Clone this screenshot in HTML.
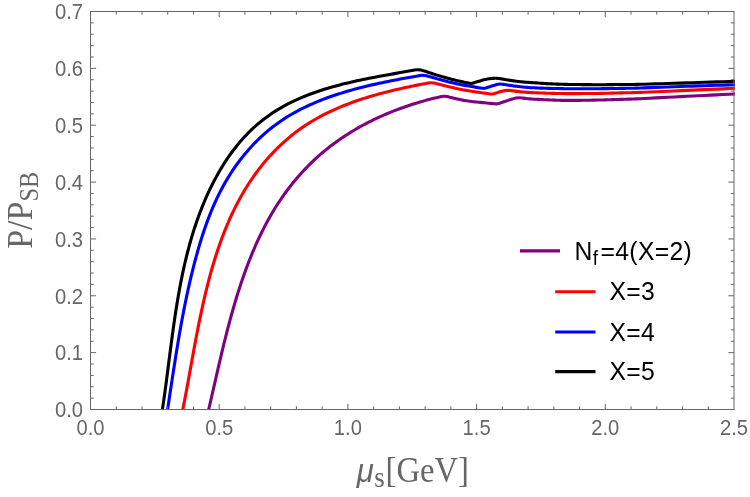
<!DOCTYPE html>
<html><head><meta charset="utf-8"><title>chart</title>
<style>html,body{margin:0;padding:0;background:#fff;}svg{display:block;will-change:transform;}text{font-family:"Liberation Sans",sans-serif;}</style></head>
<body>
<svg width="750" height="497" viewBox="0 0 750 497">
<rect width="750" height="497" fill="#fff"/>
<defs><clipPath id="c"><rect x="90.5" y="9.5" width="644.5" height="400.5"/></clipPath></defs>
<g clip-path="url(#c)" fill="none" stroke-width="3.1" stroke-linejoin="round" stroke-linecap="butt">
<path d="M208.70 409.50L209.36 406.68L210.01 403.84L210.67 400.99L211.33 398.14L211.98 395.27L212.64 392.40L213.29 389.51L213.95 386.62L214.61 383.72L215.27 380.81L215.94 377.89L216.61 374.96L217.28 372.03L217.95 369.10L218.63 366.16L219.31 363.21L220.00 360.26L220.70 357.30L221.40 354.34L222.10 351.38L222.82 348.41L223.54 345.44L224.26 342.47L225.00 339.50L225.74 336.53L226.50 333.55L227.26 330.58L228.03 327.60L228.81 324.63L229.60 321.66L230.41 318.69L231.22 315.72L232.05 312.75L232.88 309.79L233.73 306.83L234.60 303.87L235.48 300.92L236.37 297.97L237.27 295.03L238.19 292.10L239.13 289.17L240.08 286.24L241.04 283.33L242.02 280.42L243.02 277.51L244.04 274.62L245.07 271.74L246.13 268.86L247.20 266.00L248.28 263.14L249.39 260.29L250.52 257.46L251.67 254.64L252.84 251.83L254.03 249.03L255.24 246.24L256.47 243.47L257.72 240.71L259.00 237.96L260.30 235.23L261.63 232.52L262.97 229.82L264.34 227.13L265.74 224.46L267.16 221.81L268.61 219.18L270.08 216.56L271.58 213.96L273.11 211.38L274.66 208.82L276.24 206.28L277.85 203.76L279.49 201.26L281.15 198.78L282.85 196.32L284.57 193.88L286.33 191.47L288.11 189.07L289.93 186.70L291.77 184.36L293.65 182.04L295.56 179.74L297.49 177.46L299.46 175.21L301.45 172.99L303.48 170.79L305.53 168.62L307.61 166.48L309.73 164.36L311.86 162.27L314.03 160.21L316.23 158.17L318.45 156.17L320.70 154.19L322.98 152.24L325.29 150.33L327.62 148.44L329.99 146.58L332.37 144.76L334.79 142.97L337.23 141.20L339.69 139.47L342.18 137.77L344.69 136.10L347.23 134.46L349.79 132.85L352.37 131.27L354.97 129.72L357.59 128.20L360.23 126.71L362.89 125.26L365.57 123.83L368.27 122.43L370.98 121.06L373.71 119.72L376.46 118.42L379.22 117.14L381.99 115.89L384.78 114.67L387.58 113.48L390.40 112.32L393.23 111.18L396.06 110.08L398.91 109.01L401.77 107.96L404.64 106.94L407.52 105.96L410.40 105.00L413.29 104.07L416.19 103.17L419.10 102.29L422.01 101.45L424.92 100.63L427.84 99.84L430.76 99.08L433.69 98.35L436.61 97.65L439.54 96.97L441.49 96.54Q445.40 95.70 449.20 96.95L450.07 97.21L451.09 97.49L452.30 97.80L453.72 98.14L455.32 98.52L457.06 98.92L458.90 99.33L460.80 99.74L462.71 100.13L464.59 100.49L466.40 100.80L468.14 101.07L469.86 101.30L471.57 101.50L473.29 101.69L475.02 101.86L476.79 102.03L478.61 102.21L480.50 102.40L482.46 102.60L484.49 102.80L486.57 103.00L488.69 103.20L490.82 103.40L492.96 103.60L495.09 103.80L496.01 103.89Q497.20 104.00 498.34 103.62L499.74 103.16L502.27 102.33L504.81 101.49L507.35 100.65L509.89 99.81L512.42 98.97L512.75 98.87Q517.50 97.30 522.45 98.00L523.49 98.14L525.00 98.35L526.58 98.55L528.24 98.73L530.00 98.90L531.91 99.05L533.96 99.18L536.10 99.31L538.30 99.42L540.50 99.52L542.67 99.62L544.75 99.71L546.70 99.80L548.53 99.88L550.26 99.96L551.94 100.03L553.56 100.10L555.16 100.16L556.75 100.21L558.36 100.26L560.00 100.30L561.57 100.34L563.01 100.36L564.40 100.39L565.81 100.41L567.33 100.42L569.03 100.42L571.00 100.41L573.30 100.40L576.04 100.38L579.19 100.34L582.63 100.30L586.23 100.24L589.89 100.19L593.48 100.13L596.89 100.06L600.00 100.00L602.82 99.94L605.47 99.87L607.99 99.79L610.42 99.72L612.79 99.64L615.16 99.56L617.55 99.48L620.00 99.40L622.32 99.33L624.37 99.27L626.33 99.22L628.33 99.16L630.54 99.09L633.12 99.00L636.22 98.87L640.00 98.70L644.55 98.48L649.76 98.22L655.49 97.92L661.58 97.60L667.90 97.27L674.29 96.93L680.60 96.61L686.70 96.30L692.66 96.01L698.66 95.72L704.70 95.43L710.75 95.14L716.82 94.86L722.89 94.57L728.95 94.29L735.00 94.00" stroke="#800080"/>
<path d="M182.80 409.50L183.36 406.67L183.92 403.82L184.48 400.97L185.03 398.10L185.57 395.22L186.12 392.33L186.66 389.43L187.19 386.52L187.73 383.60L188.26 380.67L188.80 377.74L189.33 374.79L189.86 371.84L190.40 368.88L190.93 365.91L191.47 362.94L192.01 359.96L192.55 356.97L193.10 353.98L193.64 350.99L194.20 347.99L194.75 344.99L195.31 341.98L195.88 338.98L196.45 335.97L197.03 332.95L197.62 329.94L198.22 326.92L198.82 323.91L199.43 320.89L200.05 317.87L200.68 314.86L201.32 311.84L201.97 308.83L202.63 305.82L203.30 302.81L203.98 299.80L204.68 296.80L205.39 293.80L206.11 290.80L206.85 287.81L207.60 284.82L208.36 281.84L209.14 278.87L209.94 275.90L210.75 272.94L211.58 269.98L212.43 267.03L213.29 264.09L214.18 261.16L215.08 258.24L216.00 255.33L216.94 252.42L217.90 249.53L218.89 246.65L219.89 243.77L220.91 240.91L221.96 238.06L223.03 235.23L224.12 232.40L225.24 229.59L226.38 226.80L227.55 224.01L228.74 221.25L229.95 218.49L231.20 215.75L232.47 213.03L233.76 210.33L235.09 207.64L236.44 204.96L237.82 202.31L239.23 199.67L240.67 197.05L242.14 194.45L243.64 191.87L245.17 189.31L246.73 186.77L248.32 184.25L249.95 181.75L251.61 179.27L253.31 176.82L255.03 174.38L256.80 171.97L258.59 169.59L260.42 167.22L262.29 164.88L264.19 162.57L266.13 160.28L268.09 158.02L270.10 155.79L272.13 153.59L274.20 151.42L276.30 149.28L278.43 147.17L280.60 145.10L282.79 143.06L285.02 141.05L287.28 139.08L289.57 137.15L291.89 135.25L294.24 133.39L296.63 131.57L299.04 129.79L301.48 128.05L303.95 126.35L306.45 124.70L308.98 123.08L311.53 121.51L314.11 119.98L316.72 118.49L319.35 117.03L322.01 115.62L324.69 114.24L327.39 112.89L330.11 111.58L332.85 110.31L335.61 109.07L338.39 107.87L341.19 106.69L344.00 105.55L346.83 104.44L349.67 103.36L352.53 102.31L355.40 101.29L358.29 100.30L361.18 99.33L364.09 98.39L367.00 97.47L369.93 96.58L372.86 95.72L375.80 94.88L378.74 94.06L381.69 93.26L384.65 92.48L387.61 91.72L390.57 90.99L393.53 90.27L396.49 89.57L399.46 88.89L402.42 88.22L405.38 87.57L408.34 86.94L411.29 86.31L414.24 85.71L417.19 85.11L420.13 84.53L423.06 83.96L425.98 83.40L427.87 83.04Q431.80 82.30 435.66 83.35L435.79 83.38L436.79 83.65L437.82 83.93L438.89 84.21L440.00 84.50L441.16 84.80L442.37 85.11L443.62 85.43L444.89 85.75L446.17 86.07L447.46 86.39L448.74 86.70L450.00 87.00L451.25 87.29L452.50 87.58L453.75 87.86L455.00 88.14L456.25 88.42L457.50 88.69L458.75 88.95L460.00 89.20L461.25 89.45L462.50 89.69L463.75 89.92L465.00 90.14L466.25 90.36L467.50 90.58L468.75 90.79L470.00 91.00L471.24 91.20L472.46 91.39L473.67 91.58L474.89 91.76L476.12 91.94L477.37 92.12L478.66 92.30L480.00 92.50L481.39 92.70L482.82 92.91L484.29 93.12L485.79 93.34L487.30 93.55L488.81 93.77L490.31 93.99L490.61 94.03Q491.80 94.20 492.95 93.87L493.61 93.67L495.43 93.15L497.24 92.62L499.05 92.10L500.86 91.58L501.98 91.25Q506.30 90.00 510.76 90.57L511.60 90.68L513.38 90.91L515.13 91.13L516.84 91.34L518.46 91.53L520.00 91.70L521.38 91.84L522.60 91.97L523.73 92.07L524.81 92.16L525.92 92.25L527.12 92.33L528.45 92.41L530.00 92.50L531.79 92.60L533.78 92.69L535.92 92.79L538.14 92.88L540.39 92.97L542.61 93.06L544.73 93.13L546.70 93.20L548.53 93.26L550.26 93.31L551.94 93.35L553.56 93.39L555.16 93.42L556.75 93.45L558.36 93.47L560.00 93.50L561.57 93.52L563.01 93.55L564.40 93.57L565.81 93.58L567.33 93.59L569.03 93.60L571.00 93.60L573.30 93.60L576.04 93.59L579.19 93.58L582.63 93.56L586.23 93.54L589.89 93.51L593.48 93.48L596.89 93.44L600.00 93.40L602.82 93.35L605.47 93.30L607.99 93.23L610.42 93.17L612.79 93.10L615.16 93.03L617.55 92.96L620.00 92.90L622.32 92.85L624.37 92.81L626.33 92.78L628.33 92.74L630.54 92.70L633.12 92.63L636.22 92.53L640.00 92.40L644.55 92.22L649.76 92.01L655.49 91.76L661.58 91.50L667.90 91.22L674.29 90.94L680.60 90.67L686.70 90.40L692.66 90.14L698.66 89.88L704.70 89.62L710.75 89.36L716.82 89.09L722.89 88.83L728.95 88.56L735.00 88.30" stroke="#ff0000"/>
<path d="M167.60 409.50L168.05 406.51L168.51 403.52L168.96 400.53L169.41 397.54L169.86 394.55L170.31 391.56L170.76 388.57L171.22 385.58L171.67 382.59L172.12 379.60L172.58 376.61L173.04 373.62L173.50 370.63L173.96 367.64L174.43 364.65L174.90 361.66L175.37 358.67L175.85 355.68L176.33 352.69L176.81 349.70L177.30 346.71L177.80 343.72L178.30 340.73L178.81 337.75L179.32 334.76L179.84 331.78L180.37 328.79L180.90 325.81L181.45 322.82L182.00 319.84L182.55 316.86L183.12 313.88L183.70 310.90L184.28 307.92L184.88 304.94L185.48 301.97L186.10 298.99L186.72 296.02L187.36 293.04L188.00 290.07L188.66 287.10L189.33 284.13L190.01 281.16L190.71 278.20L191.42 275.23L192.14 272.27L192.87 269.30L193.62 266.34L194.38 263.39L195.16 260.43L195.95 257.47L196.76 254.52L197.58 251.57L198.42 248.62L199.28 245.68L200.16 242.75L201.06 239.82L201.98 236.89L202.92 233.98L203.88 231.07L204.87 228.17L205.88 225.28L206.92 222.40L207.98 219.53L209.07 216.68L210.19 213.84L211.33 211.01L212.51 208.19L213.72 205.39L214.95 202.61L216.22 199.84L217.53 197.09L218.86 194.36L220.24 191.65L221.64 188.95L223.09 186.28L224.57 183.63L226.09 181.00L227.64 178.39L229.23 175.81L230.85 173.25L232.51 170.71L234.20 168.21L235.93 165.72L237.70 163.27L239.50 160.85L241.33 158.45L243.20 156.09L245.11 153.76L247.05 151.46L249.02 149.19L251.03 146.96L253.08 144.76L255.15 142.60L257.26 140.48L259.41 138.39L261.59 136.34L263.80 134.33L266.05 132.36L268.33 130.43L270.65 128.54L272.99 126.69L275.37 124.89L277.79 123.13L280.24 121.42L282.71 119.75L285.22 118.12L287.76 116.54L290.33 115.00L292.93 113.49L295.55 112.03L298.20 110.61L300.87 109.22L303.57 107.87L306.29 106.56L309.04 105.28L311.80 104.04L314.59 102.83L317.40 101.66L320.22 100.51L323.06 99.40L325.92 98.32L328.80 97.27L331.69 96.25L334.59 95.26L337.51 94.30L340.44 93.36L343.38 92.45L346.33 91.57L349.29 90.71L352.26 89.87L355.24 89.06L358.22 88.27L361.21 87.50L364.20 86.75L367.20 86.02L370.20 85.31L373.20 84.62L376.20 83.95L379.20 83.29L382.20 82.65L385.20 82.02L388.20 81.41L391.19 80.81L394.18 80.23L397.16 79.65L400.14 79.09L403.11 78.54L406.07 78.00L409.02 77.46L411.96 76.94L414.89 76.42L417.80 75.91L419.66 75.59Q423.60 74.90 427.45 75.98L428.15 76.17L429.03 76.42L430.00 76.70L431.08 77.01L432.25 77.35L433.49 77.72L434.77 78.10L436.09 78.49L437.42 78.87L438.73 79.24L440.00 79.60L441.25 79.94L442.50 80.28L443.75 80.61L445.00 80.94L446.25 81.26L447.50 81.58L448.75 81.89L450.00 82.20L451.25 82.51L452.50 82.81L453.75 83.11L455.00 83.40L456.25 83.69L457.50 83.97L458.75 84.24L460.00 84.50L461.22 84.75L462.40 84.98L463.57 85.19L464.74 85.41L465.95 85.62L467.21 85.83L468.55 86.06L470.00 86.30L471.57 86.56L473.24 86.82L474.99 87.10L476.79 87.37L478.63 87.66L480.48 87.94L482.31 88.22L482.91 88.32Q484.10 88.50 485.24 88.14L486.01 87.90L487.93 87.30L489.84 86.70L491.75 86.10L493.66 85.50L495.58 84.90L496.54 84.60Q499.40 83.70 502.36 84.18L503.40 84.36L504.74 84.58L506.07 84.79L507.39 85.00L508.70 85.21L510.00 85.40L511.28 85.58L512.54 85.76L513.79 85.93L515.04 86.10L516.28 86.26L517.51 86.41L518.75 86.56L520.00 86.70L521.20 86.83L522.34 86.96L523.46 87.08L524.58 87.19L525.76 87.29L527.03 87.40L528.43 87.50L530.00 87.60L531.79 87.70L533.78 87.80L535.92 87.89L538.14 87.99L540.39 88.08L542.61 88.16L544.73 88.23L546.70 88.30L548.53 88.36L550.26 88.41L551.94 88.45L553.56 88.48L555.16 88.51L556.75 88.54L558.36 88.57L560.00 88.60L561.57 88.63L563.01 88.66L564.40 88.70L565.81 88.72L567.33 88.75L569.03 88.77L571.00 88.79L573.30 88.80L576.04 88.80L579.19 88.80L582.63 88.79L586.23 88.78L589.89 88.77L593.48 88.75L596.89 88.72L600.00 88.70L602.82 88.67L605.47 88.64L607.99 88.61L610.42 88.57L612.79 88.53L615.16 88.49L617.55 88.44L620.00 88.40L622.32 88.36L624.37 88.34L626.33 88.31L628.33 88.29L630.54 88.25L633.12 88.19L636.22 88.11L640.00 88.00L644.55 87.85L649.76 87.66L655.49 87.45L661.58 87.22L667.90 86.99L674.29 86.75L680.60 86.52L686.70 86.30L692.66 86.10L698.66 85.89L704.70 85.69L710.75 85.49L716.82 85.30L722.89 85.10L728.95 84.90L735.00 84.70" stroke="#0000ff"/>
<path d="M162.40 409.50L162.84 406.57L163.27 403.64L163.70 400.69L164.12 397.75L164.53 394.80L164.94 391.84L165.34 388.87L165.74 385.91L166.14 382.93L166.53 379.96L166.92 376.98L167.31 373.99L167.69 371.00L168.08 368.01L168.46 365.01L168.85 362.02L169.23 359.02L169.62 356.01L170.00 353.01L170.39 350.00L170.79 346.99L171.18 343.98L171.58 340.97L171.98 337.95L172.39 334.94L172.80 331.93L173.22 328.91L173.65 325.90L174.08 322.88L174.52 319.87L174.96 316.86L175.42 313.84L175.88 310.83L176.36 307.82L176.84 304.82L177.33 301.81L177.84 298.81L178.35 295.80L178.88 292.81L179.42 289.81L179.97 286.82L180.54 283.83L181.12 280.84L181.71 277.86L182.32 274.89L182.95 271.91L183.59 268.94L184.25 265.98L184.92 263.02L185.62 260.07L186.33 257.12L187.06 254.18L187.81 251.25L188.58 248.32L189.36 245.39L190.17 242.48L191.01 239.57L191.86 236.67L192.73 233.77L193.63 230.89L194.55 228.01L195.50 225.14L196.47 222.28L197.46 219.43L198.48 216.59L199.53 213.75L200.60 210.93L201.70 208.11L202.83 205.31L203.98 202.51L205.17 199.73L206.38 196.96L207.62 194.19L208.90 191.44L210.20 188.70L211.53 185.98L212.90 183.26L214.30 180.56L215.73 177.88L217.19 175.22L218.68 172.57L220.21 169.95L221.77 167.34L223.36 164.76L224.99 162.20L226.66 159.67L228.35 157.17L230.09 154.69L231.85 152.25L233.66 149.83L235.50 147.45L237.37 145.10L239.28 142.78L241.23 140.51L243.22 138.27L245.24 136.06L247.31 133.90L249.41 131.78L251.55 129.71L253.72 127.67L255.94 125.69L258.19 123.74L260.48 121.85L262.80 119.99L265.16 118.18L267.56 116.42L269.98 114.71L272.44 113.04L274.94 111.41L277.46 109.84L280.01 108.31L282.60 106.83L285.21 105.39L287.85 103.99L290.51 102.64L293.21 101.33L295.92 100.06L298.66 98.83L301.42 97.63L304.21 96.48L307.01 95.36L309.84 94.27L312.68 93.22L315.54 92.21L318.42 91.22L321.31 90.27L324.22 89.34L327.14 88.45L330.08 87.58L333.03 86.74L335.98 85.92L338.95 85.13L341.93 84.36L344.91 83.62L347.90 82.89L350.90 82.19L353.90 81.51L356.91 80.84L359.92 80.19L362.93 79.56L365.94 78.94L368.95 78.34L371.96 77.75L374.97 77.17L377.97 76.60L380.98 76.04L383.97 75.49L386.97 74.95L389.95 74.42L392.93 73.89L395.89 73.36L398.85 72.84L401.80 72.32L404.73 71.81L407.66 71.29L410.56 70.77L413.46 70.25L414.28 70.10Q419.20 69.20 423.92 70.84L424.65 71.09L426.01 71.56L427.36 72.02L428.69 72.47L430.00 72.90L431.29 73.32L432.56 73.72L433.81 74.12L435.05 74.51L436.29 74.89L437.52 75.26L438.76 75.63L440.00 76.00L441.25 76.37L442.50 76.73L443.75 77.09L445.00 77.44L446.25 77.79L447.50 78.13L448.75 78.47L450.00 78.80L451.24 79.13L452.47 79.45L453.69 79.77L454.92 80.08L456.15 80.39L457.41 80.70L458.69 81.00L460.00 81.30L461.35 81.60L462.73 81.89L464.14 82.18L465.57 82.46L467.01 82.75L468.44 83.03L469.88 83.31L470.12 83.36Q471.30 83.60 472.44 83.24L473.23 82.99L474.20 82.68L475.16 82.38L476.13 82.07L477.09 81.77L478.05 81.48L479.00 81.20L479.96 80.92L480.95 80.64L481.94 80.36L482.92 80.09L483.88 79.84L484.81 79.60L485.68 79.39L486.50 79.20L487.25 79.05L487.93 78.92L488.56 78.82L489.16 78.74L489.74 78.67L490.32 78.61L490.90 78.55L491.50 78.50L492.12 78.45L492.74 78.40L493.36 78.36L493.98 78.33L494.59 78.30L495.20 78.29L495.80 78.29L496.40 78.30L496.99 78.33L497.56 78.37L498.13 78.42L498.69 78.48L499.26 78.55L499.83 78.63L500.41 78.71L501.00 78.80L501.60 78.89L502.20 79.00L502.80 79.11L503.41 79.22L504.03 79.34L504.67 79.47L505.32 79.58L506.00 79.70L506.69 79.81L507.38 79.92L508.09 80.03L508.81 80.14L509.56 80.25L510.34 80.36L511.15 80.48L512.00 80.60L512.89 80.73L513.81 80.87L514.77 81.01L515.75 81.16L516.77 81.30L517.81 81.44L518.89 81.58L520.00 81.70L521.11 81.81L522.20 81.91L523.31 82.01L524.46 82.10L525.67 82.19L526.98 82.29L528.42 82.39L530.00 82.50L531.79 82.63L533.78 82.77L535.92 82.91L538.14 83.06L540.39 83.21L542.61 83.35L544.73 83.48L546.70 83.60L548.53 83.70L550.26 83.79L551.94 83.87L553.56 83.95L555.16 84.02L556.75 84.08L558.36 84.14L560.00 84.20L561.57 84.25L563.01 84.30L564.40 84.34L565.81 84.38L567.33 84.41L569.03 84.44L571.00 84.47L573.30 84.50L576.04 84.53L579.19 84.57L582.63 84.60L586.23 84.63L589.89 84.66L593.48 84.68L596.89 84.69L600.00 84.70L602.82 84.69L605.47 84.68L607.99 84.65L610.42 84.63L612.79 84.59L615.16 84.56L617.55 84.53L620.00 84.50L622.32 84.48L624.37 84.48L626.33 84.48L628.33 84.48L630.54 84.46L633.12 84.43L636.22 84.38L640.00 84.30L644.55 84.18L649.76 84.04L655.49 83.87L661.58 83.69L667.90 83.49L674.29 83.29L680.60 83.09L686.70 82.90L692.66 82.71L698.66 82.51L704.70 82.31L710.75 82.11L716.82 81.91L722.89 81.70L728.95 81.50L735.00 81.30" stroke="#000000"/>
</g>
<path d="M116.24 409.50v-3.20M116.24 11.50v3.20M141.98 409.50v-3.20M141.98 11.50v3.20M167.72 409.50v-3.20M167.72 11.50v3.20M193.46 409.50v-3.20M193.46 11.50v3.20M219.20 409.50v-5.60M219.20 11.50v5.60M244.94 409.50v-3.20M244.94 11.50v3.20M270.68 409.50v-3.20M270.68 11.50v3.20M296.42 409.50v-3.20M296.42 11.50v3.20M322.16 409.50v-3.20M322.16 11.50v3.20M347.90 409.50v-5.60M347.90 11.50v5.60M373.64 409.50v-3.20M373.64 11.50v3.20M399.38 409.50v-3.20M399.38 11.50v3.20M425.12 409.50v-3.20M425.12 11.50v3.20M450.86 409.50v-3.20M450.86 11.50v3.20M476.60 409.50v-5.60M476.60 11.50v5.60M502.34 409.50v-3.20M502.34 11.50v3.20M528.08 409.50v-3.20M528.08 11.50v3.20M553.82 409.50v-3.20M553.82 11.50v3.20M579.56 409.50v-3.20M579.56 11.50v3.20M605.30 409.50v-5.60M605.30 11.50v5.60M631.04 409.50v-3.20M631.04 11.50v3.20M656.78 409.50v-3.20M656.78 11.50v3.20M682.52 409.50v-3.20M682.52 11.50v3.20M708.26 409.50v-3.20M708.26 11.50v3.20M90.50 398.13h3.20M734.00 398.13h-3.20M90.50 386.76h3.20M734.00 386.76h-3.20M90.50 375.39h3.20M734.00 375.39h-3.20M90.50 364.01h3.20M734.00 364.01h-3.20M90.50 352.64h5.60M734.00 352.64h-5.60M90.50 341.27h3.20M734.00 341.27h-3.20M90.50 329.90h3.20M734.00 329.90h-3.20M90.50 318.53h3.20M734.00 318.53h-3.20M90.50 307.16h3.20M734.00 307.16h-3.20M90.50 295.79h5.60M734.00 295.79h-5.60M90.50 284.41h3.20M734.00 284.41h-3.20M90.50 273.04h3.20M734.00 273.04h-3.20M90.50 261.67h3.20M734.00 261.67h-3.20M90.50 250.30h3.20M734.00 250.30h-3.20M90.50 238.93h5.60M734.00 238.93h-5.60M90.50 227.56h3.20M734.00 227.56h-3.20M90.50 216.19h3.20M734.00 216.19h-3.20M90.50 204.81h3.20M734.00 204.81h-3.20M90.50 193.44h3.20M734.00 193.44h-3.20M90.50 182.07h5.60M734.00 182.07h-5.60M90.50 170.70h3.20M734.00 170.70h-3.20M90.50 159.33h3.20M734.00 159.33h-3.20M90.50 147.96h3.20M734.00 147.96h-3.20M90.50 136.59h3.20M734.00 136.59h-3.20M90.50 125.21h5.60M734.00 125.21h-5.60M90.50 113.84h3.20M734.00 113.84h-3.20M90.50 102.47h3.20M734.00 102.47h-3.20M90.50 91.10h3.20M734.00 91.10h-3.20M90.50 79.73h3.20M734.00 79.73h-3.20M90.50 68.36h5.60M734.00 68.36h-5.60M90.50 56.99h3.20M734.00 56.99h-3.20M90.50 45.61h3.20M734.00 45.61h-3.20M90.50 34.24h3.20M734.00 34.24h-3.20M90.50 22.87h3.20M734.00 22.87h-3.20" stroke="#666666" stroke-width="1" fill="none"/>
<rect x="90.50" y="11.50" width="643.50" height="398.00" fill="none" stroke="#666666" stroke-width="1"/>
<g fill="#666666" font-size="20.2">
<text transform="translate(90.5,435.3) scale(1,1.100)" text-anchor="middle">0.0</text>
<text transform="translate(219.2,435.3) scale(1,1.100)" text-anchor="middle">0.5</text>
<text transform="translate(347.9,435.3) scale(1,1.100)" text-anchor="middle">1.0</text>
<text transform="translate(476.6,435.3) scale(1,1.100)" text-anchor="middle">1.5</text>
<text transform="translate(605.3,435.3) scale(1,1.100)" text-anchor="middle">2.0</text>
<text transform="translate(734.0,435.3) scale(1,1.100)" text-anchor="middle">2.5</text>
<text transform="translate(83.1,417.2) scale(1,1.100)" text-anchor="end">0.0</text>
<text transform="translate(83.1,360.3) scale(1,1.100)" text-anchor="end">0.1</text>
<text transform="translate(83.1,303.5) scale(1,1.100)" text-anchor="end">0.2</text>
<text transform="translate(83.1,246.6) scale(1,1.100)" text-anchor="end">0.3</text>
<text transform="translate(83.1,189.8) scale(1,1.100)" text-anchor="end">0.4</text>
<text transform="translate(83.1,132.9) scale(1,1.100)" text-anchor="end">0.5</text>
<text transform="translate(83.1,76.1) scale(1,1.100)" text-anchor="end">0.6</text>
<text transform="translate(83.1,19.2) scale(1,1.100)" text-anchor="end">0.7</text>
</g>
<text transform="translate(32.3,248.8) rotate(-90) scale(1,1.08)" fill="#666666" font-size="34" style="font-family:'Liberation Serif',serif">P/P<tspan font-size="24.3" dy="5.2">SB</tspan></text>
<text transform="translate(356.8,481.9) scale(1,1.07)" fill="#666666" font-size="32.7" style="font-family:'Liberation Serif',serif"><tspan style="font-family:'Liberation Sans',sans-serif;font-style:italic" font-size="31">μ</tspan><tspan font-size="27" dy="4.4" dx="0.4">s</tspan><tspan dy="-4.4" dx="0.8">[GeV]</tspan></text>
<path d="M520.0 250.9H560.0" stroke="#800080" stroke-width="3.1"/>
<text transform="translate(574.4,259.5) scale(1,1.05)" font-size="24.7" letter-spacing="0.35" fill="#000">N<tspan font-size="19" dy="4.8" dx="0.3">f</tspan><tspan dy="-4.8" dx="2.0">=4(X=2)</tspan></text>
<path d="M555.2 291.7H595.5" stroke="#ff0000" stroke-width="3.1"/>
<text transform="translate(609.4,300.3) scale(1,1.05)" font-size="24.7" letter-spacing="0.35" fill="#000">X=3</text>
<path d="M555.2 332.0H595.5" stroke="#0000ff" stroke-width="3.1"/>
<text transform="translate(609.4,340.6) scale(1,1.05)" font-size="24.7" letter-spacing="0.35" fill="#000">X=4</text>
<path d="M555.2 371.6H595.5" stroke="#000000" stroke-width="3.1"/>
<text transform="translate(609.4,380.2) scale(1,1.05)" font-size="24.7" letter-spacing="0.35" fill="#000">X=5</text>
</svg>
</body></html>
